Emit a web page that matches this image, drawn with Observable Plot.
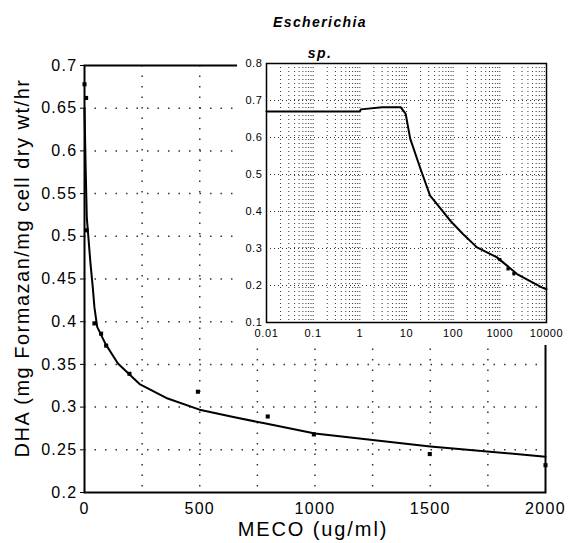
<!DOCTYPE html>
<html><head><meta charset="utf-8">
<script src="https://cdn.jsdelivr.net/npm/d3@7"></script>
<script src="https://cdn.jsdelivr.net/npm/@observablehq/plot@0.6"></script>
<style>
body{margin:0;background:#fff;}
#wrap{position:relative;width:569px;height:543px;overflow:hidden;font-family:"Liberation Sans",Arial,sans-serif;background:#fff;}
#main{position:absolute;left:0;top:0;}
#inset{position:absolute;left:237px;top:55px;}
.t{position:absolute;white-space:nowrap;color:#000;transform:translate(-50%,-50%);}
#title1,#title2{font-weight:bold;font-style:italic;font-size:14px;letter-spacing:1.4px;}
#xlab{font-size:20px;letter-spacing:1.9px;}
#ylab{font-size:20px;letter-spacing:1.5px;transform:translate(-50%,-50%) rotate(-90deg);}
</style></head><body>
<div id="wrap">
  <div id="main"></div>
  <div id="inset"></div>
  <div class="t" id="title1" style="left:320px;top:22px">Escherichia</div>
  <div class="t" id="title2" style="left:320px;top:53px">sp.</div>
  <div class="t" id="xlab" style="left:313px;top:529px">MECO (ug/ml)</div>
  <div class="t" id="ylab" style="left:22px;top:268px">DHA (mg Formazan/mg cell dry wt/hr</div>
</div>
<script>
// Main chart data
const mainCurveX = [0, 5, 10, 26, 36, 43, 55, 91, 145, 239, 361, 499, 651, 781, 1000, 1500, 2000];
const mainCurveY = [0.65, 0.58, 0.522, 0.468, 0.44, 0.417, 0.394, 0.374, 0.351, 0.327, 0.31, 0.297, 0.288, 0.281, 0.269, 0.254, 0.242];
const mainPointX = [0, 7, 9, 43, 72, 94, 195, 492, 795, 995, 1498, 2000];
const mainPointY = [0.678, 0.662, 0.507, 0.398, 0.386, 0.372, 0.339, 0.318, 0.289, 0.268, 0.245, 0.232];
const mainXTicks = [0, 500, 1000, 1500, 2000];
const mainYTicks = [0.2, 0.25, 0.3, 0.35, 0.4, 0.45, 0.5, 0.55, 0.6, 0.65, 0.7];
const mainXGrid = [250, 500, 750, 1000, 1250, 1500, 1750];
const mainYGrid = [0.25, 0.3, 0.35, 0.4, 0.45, 0.5, 0.55, 0.6, 0.65];

// Inset (log scale) data
const insetCurveX = [0.01, 1, 1.05, 3, 7.5, 9.6, 12, 20, 32, 45, 87, 160, 324, 870, 2340, 7900, 10000];
const insetCurveY = [0.67, 0.67, 0.676, 0.682, 0.682, 0.664, 0.597, 0.515, 0.443, 0.42, 0.375, 0.34, 0.303, 0.276, 0.231, 0.195, 0.19];
const insetPointX = [1000, 1500, 2000];
const insetPointY = [0.27, 0.245, 0.232];
const insetXTicks = [0.01, 0.1, 1, 10, 100, 1000, 10000];
const insetYTicks = [0.1, 0.2, 0.3, 0.4, 0.5, 0.6, 0.7, 0.8];

const mainCurve = mainCurveX.map((x, i) => ({x, y: mainCurveY[i]}));
const mainPts = mainPointX.map((x, i) => ({x, y: mainPointY[i]}));
const insetCurve = insetCurveX.map((x, i) => ({x, y: insetCurveY[i]}));
const insetPts = insetPointX.map((x, i) => ({x, y: insetPointY[i]}));
const insetXGrid = [];
for (let k = -2; k <= 3; k++) for (let m = 1; m <= 9; m++) insetXGrid.push(m * Math.pow(10, k));
insetXGrid.push(10000);

const fmt = d => String(+d.toFixed(2));

const main = Plot.plot({
  width: 569, height: 543,
  marginLeft: 84, marginRight: 24, marginTop: 65, marginBottom: 51,
  style: {fontFamily: "Liberation Sans, Arial, sans-serif", fontSize: "16px", letterSpacing: "1.3px", background: "transparent", overflow: "visible"},
  x: {domain: [0, 2000]},
  y: {domain: [0.2, 0.7]},
  marks: [
    Plot.ruleX(mainXGrid, {stroke: "#333", strokeWidth: 1.5, strokeDasharray: "1.5,9"}),
    Plot.ruleY(mainYGrid, {stroke: "#333", strokeWidth: 1.5, strokeDasharray: "1.5,9"}),
    Plot.frame({stroke: "black", strokeWidth: 2}),
    Plot.axisX({ticks: mainXTicks, tickSize: 0, tickPadding: 10, label: null, tickFormat: d => String(d)}),
    Plot.axisY({ticks: mainYTicks, tickSize: 4, tickPadding: 3, label: null, tickFormat: fmt}),
    Plot.line(mainCurve, {x: "x", y: "y", stroke: "black", strokeWidth: 2}),
    Plot.dot(mainPts, {x: "x", y: "y", symbol: "square", r: 2.3, fill: "black", stroke: "none"})
  ]
});
document.getElementById("main").appendChild(main);

const inset = Plot.plot({
  width: 331, height: 290,
  marginLeft: 29, marginRight: 22, marginTop: 8, marginBottom: 23,
  style: {fontFamily: "Liberation Sans, Arial, sans-serif", fontSize: "11px", letterSpacing: "0.6px", background: "white", overflow: "visible"},
  x: {type: "log", domain: [0.01, 10000]},
  y: {domain: [0.1, 0.8]},
  marks: [
    Plot.ruleX(insetXGrid, {stroke: "#333", strokeWidth: 1, strokeDasharray: "1,3"}),
    Plot.ruleY(insetYTicks, {stroke: "#333", strokeWidth: 1, strokeDasharray: "1,3"}),
    Plot.frame({stroke: "black", strokeWidth: 1.5}),
    Plot.axisX({ticks: insetXTicks, tickSize: 0, tickPadding: 7, label: null, tickFormat: d => String(d)}),
    Plot.axisY({ticks: insetYTicks, tickSize: 0, tickPadding: 4, label: null, tickFormat: fmt}),
    Plot.line(insetCurve, {x: "x", y: "y", stroke: "black", strokeWidth: 2}),
    Plot.dot(insetPts, {x: "x", y: "y", symbol: "square", r: 1.8, fill: "black", stroke: "none"})
  ]
});
document.getElementById("inset").appendChild(inset);
</script>
</body></html>
